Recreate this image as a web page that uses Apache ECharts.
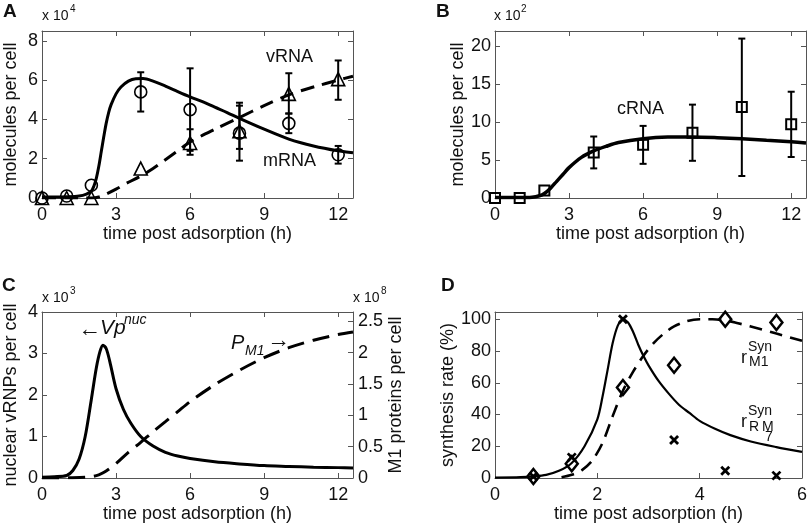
<!DOCTYPE html>
<html><head><meta charset="utf-8">
<script src="https://cdn.jsdelivr.net/npm/echarts@6/dist/echarts.min.js"></script>
<style>html,body{margin:0;padding:0;background:#fff}#c{width:810px;height:527px}</style>
</head><body><div id="c"></div>
<script>
// ---------- Panel A ----------
const tA = [0, 1, 2, 4, 6, 8, 10, 12];
const mRNA = [0, 0.1, 0.65, 5.4, 4.5, 3.3, 3.8, 2.2];
const mRNALo = [null, null, null, 4.4, 2.4, 1.9, 3.3, 1.75];
const mRNAHi = [null, null, null, 6.4, 6.6, 4.7, 4.3, 2.65];
const vRNA = [0, 0, 0, 1.5, 2.8, 3.4, 5.3, 6.05];
const vRNALo = [null, null, null, null, 2.2, 2.5, 4.3, 5.0];
const vRNAHi = [null, null, null, null, 3.5, 4.85, 6.35, 7.0];
const tFitA = [0, 0.5, 1, 1.5, 1.8, 2.0, 2.1, 2.2, 2.3, 2.4, 2.5, 2.6, 2.7, 2.8, 3.0, 3.2, 3.5, 3.8, 4.1, 4.5, 5, 5.5, 6, 6.5, 7, 7.5, 8, 9, 10, 11, 12, 12.6];
const mRNAFit = [0.05, 0.05, 0.06, 0.1, 0.2, 0.35, 0.6, 1.0, 1.6, 2.35, 3.1, 3.8, 4.35, 4.75, 5.3, 5.65, 5.95, 6.07, 6.08, 5.95, 5.7, 5.42, 5.15, 4.9, 4.62, 4.35, 4.05, 3.5, 3.0, 2.65, 2.4, 2.3];
const tFitV = [0, 1, 2, 2.3, 2.6, 3, 3.5, 4, 4.5, 5, 5.5, 6, 7, 8, 9, 10, 11, 12, 12.6];
const vRNAFit = [0, 0, 0, 0.05, 0.2, 0.45, 0.8, 1.12, 1.5, 1.95, 2.4, 2.85, 3.5, 4.1, 4.7, 5.25, 5.65, 6.0, 6.2];

// ---------- Panel B ----------
const tB = [0, 1, 2, 4, 6, 8, 10, 12];
const cRNA = [0, 0, 1.0, 6.0, 7.0, 8.6, 12.0, 9.7];
const cRNALo = [null, null, null, 3.9, 4.5, 4.9, 2.9, 5.4];
const cRNAHi = [null, null, null, 8.1, 9.5, 12.3, 21.0, 14.0];
const tFitB = [0, 1, 1.5, 1.8, 2.0, 2.25, 2.5, 2.75, 3, 3.5, 4, 4.5, 5, 6, 7, 8, 9, 10, 11, 12, 12.6];
const cRNAFit = [0.05, 0.05, 0.1, 0.3, 0.6, 1.3, 2.2, 3.1, 4.0, 5.35, 6.2, 6.8, 7.3, 7.8, 8.02, 8.04, 7.95, 7.8, 7.6, 7.4, 7.25];

// ---------- Panel C ----------
const tVp = [0, 0.5, 1, 1.25, 1.5, 1.75, 2, 2.2, 2.35, 2.47, 2.6, 2.75, 3, 3.3, 3.6, 4, 4.5, 5, 5.5, 6, 7, 8, 9, 10, 11, 12, 12.6];
const vpNuc = [0.02, 0.03, 0.06, 0.18, 0.45, 1.0, 1.9, 2.65, 3.05, 3.2, 3.12, 2.8, 2.15, 1.65, 1.32, 1.0, 0.77, 0.62, 0.53, 0.47, 0.39, 0.34, 0.3, 0.28, 0.26, 0.25, 0.24];
const tPM1 = [0, 1.2, 2.0, 2.3, 2.6, 3, 3.5, 4, 4.5, 5, 5.5, 6, 7, 8, 9, 10, 11, 12, 12.6];
const pM1 = [0, 0.005, 0.02, 0.05, 0.11, 0.23, 0.41, 0.57, 0.74, 0.9, 1.06, 1.22, 1.49, 1.72, 1.92, 2.08, 2.2, 2.29, 2.33];

// ---------- Panel D ----------
const tD = [0.75, 1.5, 2.5, 3.5, 4.5, 5.5];
const rM1 = [1, 9, 57, 71, 100, 98];
const rRM7 = [1, 13, 100, 24, 4.5, 1.5];
const tFitRM = [0, 0.5, 0.75, 1.0, 1.25, 1.5, 1.75, 2.0, 2.1, 2.2, 2.3, 2.4, 2.5, 2.6, 2.7, 2.8, 2.9, 3.0, 3.2, 3.4, 3.6, 3.8, 4.0, 4.3, 4.6, 5.0, 5.5, 6.0];
const rRM7Fit = [0.2, 0.5, 1, 2, 4.5, 9.5, 20, 37, 51, 68, 85, 96, 100, 98, 92, 84, 77, 71, 61, 53, 46, 41, 36, 31, 27, 23, 19.5, 16.5];
const tFitM1 = [1.3, 1.5, 1.7, 1.9, 2.1, 2.3, 2.5, 2.7, 2.9, 3.1, 3.3, 3.5, 3.75, 4.0, 4.25, 4.5, 4.75, 5.0, 5.5, 6.0];
const rM1Fit = [0.5, 2, 5, 11, 22, 39, 55, 67, 77, 85, 91, 95.5, 98.8, 100, 100, 99.3, 97.5, 95.5, 91, 86.5];

// ---------- helpers ----------
const FONT = '"Liberation Sans", Arial, Helvetica, sans-serif';
const AX = '#555';
const zip = (xs, ys) => xs.map((x, i) => [x, ys[i]]);
const errs = (xs, lo, hi) => xs.map((x, i) => lo[i] == null ? null : [x, lo[i], hi[i]]).filter(Boolean);

const grids = [
  {left: 42, top: 31, width: 311, height: 167},
  {left: 495, top: 31, width: 311, height: 167},
  {left: 42, top: 312, width: 311, height: 166},
  {left: 495, top: 312, width: 311, height: 166}
].map(g => Object.assign(g, {show: false}));

function fmt(interval) {
  return v => Math.abs(v / interval - Math.round(v / interval)) < 1e-6 ? String(+v.toFixed(3)) : '';
}
const axLine = {show: true, onZero: false, lineStyle: {color: AX, width: 1}};
const axTick = {show: true, inside: true, length: 5, lineStyle: {color: AX, width: 1}};
function xAx(grid, max, interval, labels) {
  return {
    type: 'value', gridIndex: grid, min: 0, max: max, interval: interval,
    position: labels ? 'bottom' : 'top',
    axisLine: axLine, splitLine: {show: false}, axisTick: axTick,
    axisLabel: {show: labels, margin: 8, color: '#111', fontSize: 18, fontFamily: FONT, formatter: fmt(interval), showMaxLabel: true, showMinLabel: true},
    name: labels ? 'time post adsorption (h)' : '', nameLocation: 'middle', nameGap: 26,
    nameTextStyle: {color: '#111', fontSize: 18, fontFamily: FONT}
  };
}
function yAx(grid, max, interval, labels, pos, name) {
  return {
    type: 'value', gridIndex: grid, min: 0, max: max, interval: interval, position: pos,
    axisLine: axLine, splitLine: {show: false}, axisTick: axTick,
    axisLabel: {show: labels, margin: pos === 'left' ? 4 : 5, color: '#111', fontSize: 18, fontFamily: FONT, formatter: fmt(interval), showMaxLabel: true, showMinLabel: true},
    name: name || '', nameLocation: 'middle', nameGap: pos === 'left' ? 22 : 30,
    nameTextStyle: {color: '#111', fontSize: 18, fontFamily: FONT}
  };
}

function errSeries(xi, yi, data) {
  return {
    type: 'custom', xAxisIndex: xi, yAxisIndex: yi, data: data, z: 3,
    encode: {x: 0, y: [1, 2]},
    renderItem: (params, api) => {
      const a = api.coord([api.value(0), api.value(1)]);
      const b = api.coord([api.value(0), api.value(2)]);
      const st = {stroke: '#000', lineWidth: 2};
      return {type: 'group', children: [
        {type: 'line', shape: {x1: a[0], y1: a[1], x2: b[0], y2: b[1]}, style: st},
        {type: 'line', shape: {x1: a[0] - 3.5, y1: a[1], x2: a[0] + 3.5, y2: a[1]}, style: st},
        {type: 'line', shape: {x1: b[0] - 3.5, y1: b[1], x2: b[0] + 3.5, y2: b[1]}, style: st}
      ]};
    }
  };
}
function lineSeries(xi, yi, data, width, dash) {
  return {
    type: 'line', xAxisIndex: xi, yAxisIndex: yi, data: data, smooth: 0.3, showSymbol: false, symbol: 'none',
    lineStyle: {color: '#000', width: width, type: dash || 'solid', cap: 'butt'}, z: 4, animation: false
  };
}
function scatterSeries(xi, yi, data, symbol, size, bw) {
  return {
    type: 'scatter', xAxisIndex: xi, yAxisIndex: yi, data: data, symbol: symbol, symbolSize: size,
    itemStyle: {color: 'transparent', borderColor: '#000', borderWidth: bw, opacity: 1}, z: 5, animation: false
  };
}
const cross = 'path://M0,0L10,10M10,0L0,10';

const txt = (x, y, s, size, extra) => ({type: 'text', left: x, top: y, z: 100,
  style: Object.assign({text: s, fontSize: size, fontFamily: FONT, fill: '#111'}, extra || {})});

const option = {
  animation: false,
  grid: grids,
  xAxis: [
    xAx(0, 12.6, 3, true), xAx(0, 12.6, 3, false),
    xAx(1, 12.6, 3, true), xAx(1, 12.6, 3, false),
    xAx(2, 12.6, 3, true), xAx(2, 12.6, 3, false),
    xAx(3, 6, 2, true), xAx(3, 6, 2, false)
  ],
  yAxis: [
    yAx(0, 8.5, 2, true, 'left', 'molecules per cell'), yAx(0, 8.5, 2, false, 'right'),
    yAx(1, 22, 5, true, 'left', 'molecules per cell'), yAx(1, 22, 5, false, 'right'),
    yAx(2, 4, 1, true, 'left', 'nuclear vRNPs per cell'), yAx(2, 2.65, 0.5, true, 'right', 'M1 proteins per cell'),
    yAx(3, 104.6, 20, true, 'left', 'synthesis rate (%)'), yAx(3, 104.6, 20, false, 'right')
  ],
  series: [
    // A
    errSeries(0, 0, errs(tA, mRNALo, mRNAHi)),
    errSeries(0, 0, errs(tA, vRNALo, vRNAHi)),
    lineSeries(0, 0, zip(tFitA, mRNAFit), 3),
    lineSeries(0, 0, zip(tFitV, vRNAFit), 3, [14, 8]),
    scatterSeries(0, 0, zip(tA, mRNA), 'circle', 12, 1.6),
    scatterSeries(0, 0, zip(tA, vRNA), 'triangle', 13, 1.6),
    // B
    errSeries(2, 2, errs(tB, cRNALo, cRNAHi)),
    lineSeries(2, 2, zip(tFitB, cRNAFit), 3.5),
    scatterSeries(2, 2, zip(tB, cRNA), 'rect', 10, 2),
    // C
    lineSeries(4, 4, zip(tVp, vpNuc), 3),
    lineSeries(4, 5, zip(tPM1, pM1), 3, [17, 9]),
    // D
    lineSeries(6, 6, zip(tFitRM, rRM7Fit), 2.2),
    lineSeries(6, 6, zip(tFitM1, rM1Fit), 2.6, [13, 8]),
    scatterSeries(6, 6, zip(tD, rM1), 'diamond', [12, 15], 2.5),
    scatterSeries(6, 6, zip(tD, rRM7), cross, 8, 2.8)
  ],
  graphic: [
    txt(3, 2, 'A', 19, {fontWeight: 'bold'}),
    txt(436, 2, 'B', 19, {fontWeight: 'bold'}),
    txt(2, 276, 'C', 19, {fontWeight: 'bold'}),
    txt(441, 276, 'D', 19, {fontWeight: 'bold'}),
    txt(42, 9, 'x 10', 14), txt(70, 4, '4', 10),
    txt(494, 9, 'x 10', 14), txt(521, 4, '2', 10),
    txt(42, 291, 'x 10', 14), txt(70, 286, '3', 10),
    txt(353, 291, 'x 10', 14), txt(381, 286, '8', 10),
    txt(266, 48, 'vRNA', 18), txt(263, 152, 'mRNA', 18),
    txt(617, 100, 'cRNA', 18),
    txt(78, 318, '\u2190', 23),
    txt(100, 318, 'Vp', 21, {fontStyle: 'italic'}),
    txt(124, 313, 'nuc', 14, {fontStyle: 'italic'}),
    txt(231, 333, 'P', 20, {fontStyle: 'italic'}),
    txt(245, 344, 'M1', 14, {fontStyle: 'italic'}),
    txt(267, 329, '\u2192', 23),
    txt(741, 349, 'r', 18), txt(748, 340, 'Syn', 14), txt(749, 355, 'M1', 14),
    txt(741, 413, 'r', 18), txt(748, 404, 'Syn', 14), txt(749, 420, 'R', 14), txt(762, 420, 'M', 14), txt(765, 430, '7', 14)
  ]
};
echarts.init(document.getElementById('c'), null, {renderer: 'canvas'}).setOption(option);
</script></body></html>
